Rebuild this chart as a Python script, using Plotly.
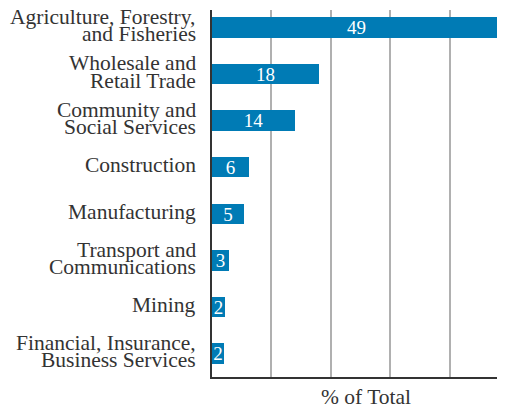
import plotly.graph_objects as go

categories = [
    "Agriculture, Forestry,<br>and Fisheries",
    "Wholesale and<br>Retail Trade",
    "Community and<br>Social Services",
    "Construction",
    "Manufacturing",
    "Transport and<br>Communications",
    "Mining",
    "Financial, Insurance,<br>Business Services",
]
values = [48.6, 18.0, 14.0, 6.3, 5.4, 2.9, 2.2, 2.0]
value_labels = ["49", "18", "14", "6", "5", "3", "2", "2"]
x_ticks = [0, 10, 20, 30, 40]
x_title = "% of Total"

FONT = "Liberation Serif"
TXT = "#333333"
BAR = "#007BB5"

# page body has an 8px margin; compensate so the plot lands where the reference has it
OFF = 8
W, H = 505 - OFF, 406 - OFF
PL, PT, PB = 212, 10, 377  # plot area in window pixels

idx = list(range(len(categories)))

fig = go.Figure(
    go.Bar(
        x=values,
        y=idx,
        orientation="h",
        width=0.44,
        marker=dict(color=BAR, line=dict(width=0)),
        text=value_labels,
        textposition="inside",
        textangle=0,
        insidetextanchor="middle",
        constraintext="none",
        textfont=dict(family=FONT, size=19, color="white"),
        hoverinfo="skip",
    )
)

annotations = []
LS = 17.3
for i, lab in enumerate(categories):
    lines = lab.split("<br>")
    n = len(lines)
    for j, ln in enumerate(lines):
        annotations.append(dict(
            x=0, xref="paper", y=i, yref="y",
            text=ln, showarrow=False,
            xanchor="right", yanchor="middle",
            xshift=-14,
            yshift=-(j - (n - 1) / 2) * LS + 2,
            font=dict(family=FONT, size=21.5, color=TXT),
        ))

annotations.append(dict(
    x=(365.5 - PL) / (505 - PL), xref="paper", y=0, yref="paper",
    text=x_title, showarrow=False, xanchor="center", yanchor="middle",
    yshift=-20, font=dict(family=FONT, size=21.5, color=TXT),
))

fig.update_layout(
    width=W, height=H,
    margin=dict(l=PL - OFF, r=0, t=PT - OFF, b=H + OFF - PB),
    plot_bgcolor="white", paper_bgcolor="white",
    showlegend=False,
    bargap=0,
    annotations=annotations,
    font=dict(family=FONT, color=TXT),
)
fig.update_xaxes(
    range=[0, 49.25], tickvals=x_ticks, showticklabels=False,
    showgrid=True, gridcolor="#b0b0b0", gridwidth=1.5,
    zeroline=False, showline=True, linecolor="#333333", linewidth=1.5,
    ticks="", fixedrange=True,
)
fig.update_yaxes(
    range=[7.5, -0.37], tickvals=idx, showticklabels=False,
    showgrid=False, zeroline=False,
    showline=True, linecolor="#333333", linewidth=1.5,
    ticks="", fixedrange=True,
)

fig.write_html("out.html")
